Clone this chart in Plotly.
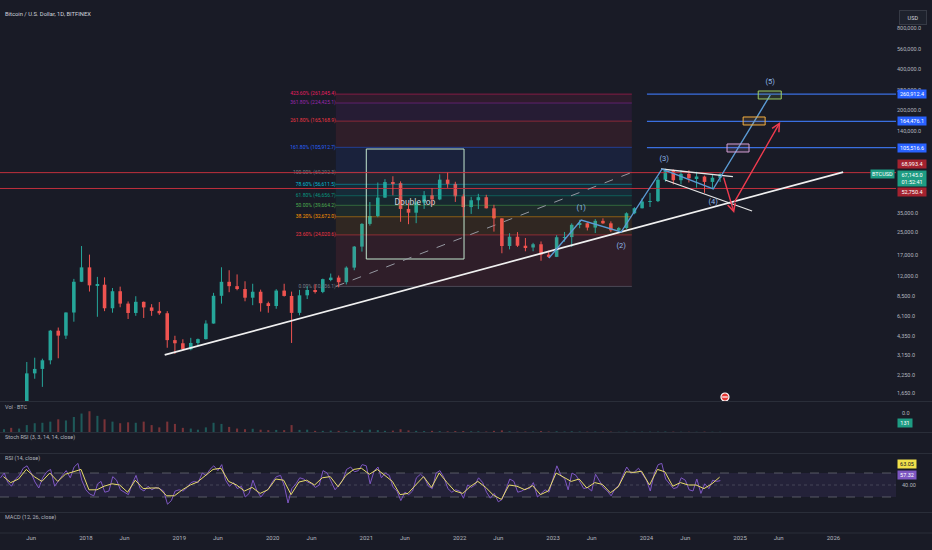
import math
import pandas as pd
import plotly.graph_objects as go

BG = '#191b26'
TXT = '#b2b5be'
GREEN = '#26a69a'
RED = '#ef5350'
LINE_RED = '#c0303d'
BLUE = '#2962ff'
FONT = 'Roboto'
PLOT_H = 533  # height of the plotting area in px (margin b below)

# ---------------- price data: monthly candles, Feb 2017 .. Oct 2024 ----------------
months = pd.date_range('2017-02-01', '2024-10-01', freq='MS')
candle_dates = months + pd.Timedelta(days=14)

opens = [965, 1190, 1080, 1350, 2300, 2480, 2870, 4740, 4360, 6450, 10860,
         13860, 10220, 10330, 6930, 9250, 7500, 6400, 7730, 7030, 6630, 6370, 4040,
         3830, 3460, 3850, 4110, 5350, 8560, 10850, 10080, 9600, 8290, 9170, 7550,
         7200, 9350, 8540, 6410, 8630, 9450, 9140, 11350, 11650, 10780, 13800, 19700,
         28950, 33100, 45200, 58800, 57700, 37300, 35000, 41500, 47100, 43800, 61300, 57000,
         46200, 38500, 43200, 45500, 37700, 31800, 19900, 23300, 20000, 19400, 20500, 17200,
         16550, 23100, 23150, 28500, 29250, 27200, 30480, 29230, 25950, 26970, 34650, 37720,
         42280, 42580, 61200, 71300, 60650, 67500, 62700, 64600, 58970, 63300]
highs = [1200, 1350, 1350, 2790, 3000, 2950, 4800, 5000, 6470, 11400, 19890,
         17200, 11800, 11700, 9770, 10000, 7780, 8500, 7770, 7430, 7700, 6600, 4350,
         4100, 4200, 4150, 5650, 9000, 13880, 13200, 12300, 10950, 10500, 9500, 7750,
         9580, 10500, 9190, 9470, 10080, 10400, 11450, 12480, 12070, 14100, 19900, 29300,
         41950, 58350, 61800, 64900, 59500, 41300, 42400, 50500, 52900, 67000, 69000, 59100,
         47900, 45800, 48200, 47400, 40000, 31900, 24700, 25200, 22800, 21000, 21500, 18400,
         23900, 25250, 29200, 31000, 29800, 31400, 31800, 30200, 27500, 35200, 38400, 44700,
         48950, 64000, 73800, 72800, 71950, 71950, 70000, 65600, 66500, 68400]
lows = [920, 890, 1060, 1340, 2100, 1830, 2680, 2970, 4120, 5520, 10800,
        9200, 6000, 6600, 6430, 7050, 5780, 6100, 5880, 6100, 6200, 3550, 3200,
        3400, 3400, 3700, 4080, 5340, 7500, 9100, 9400, 7800, 7300, 6550, 6430,
        6870, 8450, 3850, 6150, 8100, 8900, 8950, 10950, 9880, 10380, 13200, 18100,
        28130, 32400, 45000, 47000, 30000, 28800, 29300, 37300, 39600, 43300, 53300, 42000,
        32900, 34300, 37200, 37600, 25400, 17600, 18800, 19600, 18200, 18200, 15500, 16300,
        16500, 21400, 19600, 26900, 25900, 24800, 28900, 25200, 24950, 26600, 34100, 37600,
        38550, 41900, 59100, 56500, 56550, 58400, 53500, 49000, 52550, 58900]
closes = [1190, 1080, 1350, 2300, 2480, 2870, 4740, 4360, 6450, 10860, 13860,
          10220, 10330, 6930, 9250, 7500, 6400, 7730, 7030, 6630, 6370, 4040, 3830,
          3460, 3850, 4110, 5350, 8560, 10850, 10080, 9600, 8290, 9170, 7550, 7200,
          9350, 8540, 6410, 8630, 9450, 9140, 11350, 11650, 10780, 13800, 19700, 28950,
          33100, 45200, 58800, 57700, 37300, 35000, 41500, 47100, 43800, 61300, 57000, 46200,
          38500, 43200, 45500, 37700, 31800, 19900, 23300, 20000, 19400, 20500, 17200, 16550,
          23100, 23150, 28500, 29250, 27200, 30480, 29230, 25950, 26970, 34650, 37720, 42280,
          42580, 61200, 71300, 60650, 67500, 62700, 64600, 58970, 63300, 67145]
volume = [12, 18, 15, 30, 38, 40, 45, 55, 50, 65, 80,
          90, 70, 55, 45, 38, 42, 40, 45, 30, 20, 45, 35,
          18, 15, 10, 20, 40, 35, 22, 15, 12, 14, 10, 8,
          9, 8, 30, 9, 10, 5, 5, 6, 5, 4, 6, 7,
          10, 8, 5, 6, 12, 7, 5, 4, 5, 4, 3, 4,
          4, 3, 3, 2, 5, 7, 3, 2, 2, 2, 4, 2,
          3, 2, 3, 2, 1.5, 2, 1.5, 1.5, 1, 1.5, 1.5, 1.5,
          1.5, 1.5, 2, 1.5, 1, 1, 1, 1.5, 1, 1]

# RSI (14) twice a month, and its smoothed line once a month
rsi_dates = [d + pd.Timedelta(days=k) for d in months for k in (0, 15)]
rsi = [62, 70, 55, 48, 60, 66, 78, 82, 70, 55, 45, 62, 72, 76, 48, 58, 66, 74, 62, 80, 86, 58,
       42, 35, 32, 52, 56, 38, 40, 64, 58, 42, 38, 34, 52, 66, 44, 40, 48, 42, 46, 44, 40, 18, 24, 40,
       42, 40, 46, 54, 56, 54, 70, 66, 76, 82, 74, 84, 58, 48, 54, 44, 48, 30, 36, 58, 40, 30, 38, 44,
       56, 64, 66, 48, 20, 44, 52, 62, 60, 55, 52, 46, 50, 74, 70, 56, 42, 50, 58, 76, 80, 72, 74, 84,
       82, 52, 74, 80, 62, 70, 66, 46, 40, 24, 38, 34, 40, 62, 68, 62, 48, 44, 70, 74, 62, 44, 38, 42,
       40, 28, 50, 46, 50, 62, 54, 38, 28, 36, 22, 26, 42, 60, 56, 38, 40, 44, 44, 54, 30, 36, 42, 38,
       60, 82, 66, 60, 42, 70, 66, 54, 44, 46, 40, 68, 56, 46, 40, 32, 44, 50, 66, 80, 70, 72, 78, 68,
       58, 40, 70, 84, 86, 60, 52, 44, 46, 62, 58, 42, 40, 60, 36, 52, 44, 58, 56, 57.32]
rsi_ma_dates = months + pd.Timedelta(days=12)
rsi_ma = [64, 54, 60, 76, 64, 56, 70, 56, 68, 72, 76,
          42, 42, 48, 52, 50, 38, 58, 44, 45, 45, 32, 32,
          42, 50, 55, 66, 76, 78, 56, 50, 40, 46, 36, 42,
          60, 58, 34, 55, 58, 50, 62, 64, 47, 66, 76, 78,
          68, 76, 66, 56, 34, 36, 50, 64, 46, 70, 54, 40,
          36, 48, 56, 46, 33, 26, 50, 48, 42, 49, 34, 40,
          70, 63, 56, 60, 45, 54, 51, 37, 47, 72, 71, 73,
          50, 76, 72, 48, 54, 50, 50, 44, 52, 63.05]

# ---------------- drawings ----------------
x_range = ['2017-01-30 07:00', '2026-09-02 12:00']

trend_x = ['2018-11-05', '2026-02-08']
trend_y = [3140, 69730]

fib_x = ['2020-09-04', '2023-11-05']
fib_levels = [0, 23.6, 38.2, 50, 61.8, 78.6, 100, 161.8, 261.8, 361.8, 423.6]
fib_prices = [10036.1, 24020.6, 32672.0, 39664.2, 46656.7, 56611.5, 69292.3,
              105912.7, 165168.9, 224425.1, 261045.4]
fib_colors = ['#787b86', '#f23645', '#ff9800', '#4caf50', '#089981', '#00bcd4',
              '#787b86', '#2962ff', '#f23645', '#9c27b0', '#e91e63']

dbl_top_x = ['2021-01-01', '2022-01-18']
dbl_top_y = [15970, 102960]
dbl_top_label = ('2021-07-10', 41250, 'Double top')

wave_x = ['2022-12-16', '2023-04-21', '2023-09-24', '2024-03-02', '2024-09-18', '2025-04-29']
wave_y = [16240, 30930, 25230, 73380, 52290, 257100]
wave_label_x = ['2023-04-21', '2023-09-24', '2024-03-10', '2024-09-18', '2025-04-29']
wave_label_y = [37890, 19910, 86970, 41960, 320400]
wave_labels = ['(1)', '(2)', '(3)', '(4)', '(5)']

wedge_up_x = ['2024-02-27', '2024-12-04']
wedge_up_y = [73380, 64420]
wedge_lo_x = ['2024-03-14', '2025-02-17']
wedge_lo_y = [60900, 36010]

target_x0 = ['2024-11-11', '2025-01-13', '2025-03-13']
target_x1 = ['2025-02-05', '2025-04-09', '2025-06-11']
target_lo = [97880, 154700, 240300]
target_hi = [112100, 177100, 275100]
target_colors = ['#d7a0d6', '#f5b041', '#9ccc65']

target_start = '2024-01-03'
target_levels = [105516.6, 164476.1, 260912.4]
red_levels = [68993.4, 52750.4]

arrow_tail_x = ['2024-10-27', '2024-12-07']
arrow_tail_y = [65160, 41030]
arrow_head_x = ['2024-12-09', '2025-06-07']
arrow_head_y = [34800, 162700]

icon_x, icon_y = '2024-11-03', 1541

price_ticks = [800000, 560000, 400000, 280000, 200000, 140000, 35000, 25000,
               17000, 12000, 8500, 6100, 4350, 3150, 2250, 1650]
x_ticks = ['2017-06-01', '2018-01-01', '2018-06-01', '2019-01-01', '2019-06-01',
           '2020-01-01', '2020-06-01', '2021-01-01', '2021-06-01', '2022-01-01',
           '2022-06-01', '2023-01-01', '2023-06-01', '2024-01-01', '2024-06-01',
           '2025-01-01', '2025-06-01', '2026-01-01']
x_tick_text = ['Jun', '2018', 'Jun', '2019', 'Jun', '2020', 'Jun', '2021', 'Jun',
               '2022', 'Jun', '2023', 'Jun', '2024', 'Jun', '2025', 'Jun', '2026']


def rgba(hex_color, a):
    h = hex_color.lstrip('#')
    return 'rgba({},{},{},{})'.format(int(h[0:2], 16), int(h[2:4], 16), int(h[4:6], 16), a)


def py(px):
    # pixel row inside the plotting area -> paper fraction
    return 1 - px / PLOT_H


def line(x, y, color, width=1, dash=None, yaxis='y'):
    return go.Scatter(x=x, y=y, mode='lines', yaxis=yaxis, hoverinfo='skip',
                      line=dict(color=color, width=width, dash=dash))


fig = go.Figure()

# fib zones, lines and labels
for i in range(1, len(fib_levels)):
    lo, hi = fib_prices[i - 1], fib_prices[i]
    fig.add_trace(go.Scatter(x=[fib_x[0], fib_x[1], fib_x[1], fib_x[0], fib_x[0]],
                             y=[lo, lo, hi, hi, lo], mode='lines', fill='toself',
                             fillcolor=rgba(fib_colors[i], 0.1), line=dict(width=0),
                             hoverinfo='skip'))
for p, c in zip(fib_prices, fib_colors):
    fig.add_trace(line(fib_x, [p, p], rgba(c, 0.6), 0.8))
fig.add_trace(go.Scatter(x=[fib_x[0]] * len(fib_prices), y=fib_prices, mode='text',
                         text=['{:.2f}% ({:,.1f})'.format(l, p) for l, p in zip(fib_levels, fib_prices)],
                         textposition='middle left',
                         textfont=dict(size=5, color=fib_colors, family=FONT)))

# double top box
fig.add_trace(line([dbl_top_x[0], dbl_top_x[1], dbl_top_x[1], dbl_top_x[0], dbl_top_x[0]],
                   [dbl_top_y[0], dbl_top_y[0], dbl_top_y[1], dbl_top_y[1], dbl_top_y[0]],
                   '#c3e6cf', 1))
fig.add_trace(go.Scatter(x=[dbl_top_label[0]], y=[dbl_top_label[1]], mode='text',
                         text=[dbl_top_label[2]], textfont=dict(size=8.5, color='#d1d4dc', family=FONT)))

# horizontal levels
for p in red_levels:
    fig.add_trace(line(x_range, [p, p], LINE_RED, 1))
for p in target_levels:
    fig.add_trace(line([target_start, x_range[1]], [p, p], '#3a6fe0', 1.2))

# dashed fib trend
fig.add_trace(line(fib_x, [fib_prices[0], fib_prices[6]], '#9598a1', 1, 'dash'))

# candles: thin wicks + narrow bodies
DAY = 86400000
for up, col in ((True, GREEN), (False, RED)):
    idx = [i for i in range(len(opens)) if (closes[i] >= opens[i]) == up]
    wx, wy = [], []
    for i in idx:
        wx += [candle_dates[i], candle_dates[i], None]
        wy += [lows[i], highs[i], None]
    fig.add_trace(go.Scatter(x=wx, y=wy, mode='lines', line=dict(color=col, width=1), hoverinfo='skip'))
    fig.add_trace(go.Bar(x=[candle_dates[i] for i in idx],
                         base=[min(opens[i], closes[i]) for i in idx],
                         y=[abs(closes[i] - opens[i]) for i in idx],
                         width=14 * DAY, marker=dict(color=col, line=dict(width=0)), hoverinfo='skip'))

# long support trend line and wedge
fig.add_trace(line(trend_x, trend_y, '#f0f0f0', 1.8))
fig.add_trace(line(wedge_up_x, wedge_up_y, '#e6e6e6', 1.3))
fig.add_trace(line(wedge_lo_x, wedge_lo_y, '#e6e6e6', 1.3))

# elliott wave path
fig.add_trace(line(wave_x, wave_y, '#5b9bd5', 1.4))
fig.add_trace(go.Scatter(x=wave_label_x, y=wave_label_y, mode='text', text=wave_labels,
                         textfont=dict(size=7.5, color='#8fb8e8', family=FONT)))

# target boxes
for x0, x1, lo, hi, c in zip(target_x0, target_x1, target_lo, target_hi, target_colors):
    fig.add_trace(go.Scatter(x=[x0, x1, x1, x0, x0], y=[lo, lo, hi, hi, lo], mode='lines',
                             fill='toself', fillcolor=rgba(c, 0.12), line=dict(color=c, width=1),
                             hoverinfo='skip'))

# event icon
fig.add_trace(go.Scatter(x=[icon_x], y=[icon_y], mode='markers',
                         marker=dict(size=8, color='#e53935', line=dict(color='white', width=1.2))))
fig.add_trace(go.Scatter(x=[icon_x], y=[icon_y], mode='markers',
                         marker=dict(size=4, symbol='line-ew', line=dict(color='white', width=1.2))))

# volume pane
vol_colors = [rgba(GREEN, 0.45) if c >= o else rgba(RED, 0.45) for o, c in zip(opens, closes)]
fig.add_trace(go.Bar(x=candle_dates, y=volume, yaxis='y2', marker=dict(color=vol_colors, line=dict(width=0)),
                     width=8 * DAY, hoverinfo='skip'))

# RSI pane
fig.add_trace(go.Scatter(x=[x_range[0], x_range[1], x_range[1], x_range[0], x_range[0]],
                         y=[30, 30, 70, 70, 30], yaxis='y3', mode='lines', fill='toself',
                         fillcolor='rgba(126,87,194,0.12)', line=dict(width=0), hoverinfo='skip'))
for lvl, d, op in ((70, 'dash', 0.8), (50, 'dot', 0.5), (30, 'dash', 0.8)):
    fig.add_trace(line(x_range, [lvl, lvl], rgba('#787b86', op), 0.8, d, 'y3'))
fig.add_trace(line(rsi_dates, rsi, '#7e57c2', 1, None, 'y3'))
fig.add_trace(line(rsi_ma_dates, rsi_ma, '#e8dc6a', 1, None, 'y3'))

# ---------------- annotations ----------------
def scale_box(text, y, color, yref='y', shift=0, fg='white', width=26):
    return dict(text=text, x=1, xref='paper', xanchor='left', xshift=1, y=y, yref=yref,
                yshift=shift, showarrow=False, bgcolor=color, borderpad=1, width=width,
                font=dict(size=5.5, color=fg, family=FONT))


ann = [
    dict(text='Bitcoin / U.S. Dollar, 1D, BITFINEX', x=0, xref='paper', xanchor='left', xshift=3,
         y=py(9), yref='paper', showarrow=False, font=dict(size=5.8, color='#d1d4dc', family=FONT)),
    dict(text='USD', x=1, xref='paper', xanchor='left', xshift=3, y=py(10), yref='paper',
         showarrow=False, bgcolor='#1e222d', bordercolor='#363a45', borderwidth=1, width=24,
         height=11, font=dict(size=5.5, color='#d1d4dc', family=FONT)),
]
for text, px in (('Vol · BTC', 412), ('Stoch RSI (3, 3, 14, 14, close)', 443),
                 ('RSI (14, close)', 464), ('MACD (12, 26, close)', 523)):
    ann.append(dict(text=text, x=0, xref='paper', xanchor='left', xshift=3, y=py(px), yref='paper',
                    showarrow=False, font=dict(size=5.5, color=TXT, family=FONT)))

for v in target_levels:
    ann.append(scale_box('{:,.1f}'.format(v), math.log10(v), BLUE))
ann.append(scale_box('{:,.1f}'.format(red_levels[0]), math.log10(red_levels[0]), '#a3222f', shift=9))
ann.append(scale_box('{:,.1f}'.format(red_levels[1]), math.log10(red_levels[1]), '#a3222f', shift=-4))
ann.append(dict(scale_box('{:,.1f}<br>01:52:41'.format(closes[-1]), math.log10(closes[-1]), '#1e9c83',
                          shift=4), yanchor='top'))
ann.append(dict(text='BTCUSD', x=1, xref='paper', xanchor='right', xshift=-1, y=math.log10(closes[-1]),
                yref='y', showarrow=False, bgcolor='#1e9c83', borderpad=1,
                font=dict(size=5.5, color='white', family=FONT)))

ann.append(dict(text='0.0', x=1, xref='paper', xanchor='left', xshift=4, y=py(418), yref='paper',
                showarrow=False, font=dict(size=5.5, color=TXT, family=FONT)))
ann.append(scale_box('131', py(428), '#1e9c83', yref='paper', width=12))
ann.append(scale_box('{:.2f}'.format(rsi_ma[-1]), py(469), '#f0e04a', yref='paper', fg='#131722', width=16))
ann.append(scale_box('{:.2f}'.format(rsi[-1]), py(480), '#7e57c2', yref='paper', width=16))
ann.append(dict(text='40.00', x=1, xref='paper', xanchor='left', xshift=4, y=py(490), yref='paper',
                showarrow=False, font=dict(size=5.5, color=TXT, family=FONT)))

for tx, ty, hx, hy in zip(arrow_tail_x, arrow_tail_y, arrow_head_x, arrow_head_y):
    ann.append(dict(x=hx, y=math.log10(hy), ax=tx, ay=math.log10(ty), xref='x', yref='y',
                    axref='x', ayref='y', text='', showarrow=True, arrowhead=5, arrowsize=1.1,
                    arrowwidth=1.4, arrowcolor='#ef3b4f'))

# pane separators
shapes = [dict(type='line', xref='paper', yref='paper', x0=0, x1=1.05, y0=py(px), y1=py(px),
               line=dict(color='#2a2e39', width=1)) for px in (401.5, 432.5, 453.5, 512.5, 533)]

fig.update_layout(
    width=932, height=550,
    margin=dict(l=0, r=36, t=0, b=17),
    paper_bgcolor=BG, plot_bgcolor=BG,
    showlegend=False, barmode='overlay',
    font=dict(family=FONT, color=TXT),
    annotations=ann, shapes=shapes,
    xaxis=dict(type='date', range=x_range, rangeslider=dict(visible=False), anchor='free', position=0,
               showgrid=False, zeroline=False, showline=False, tickvals=x_ticks, ticktext=x_tick_text,
               tickfont=dict(size=6, color=TXT, family=FONT), ticks=''),
    yaxis=dict(type='log', domain=[py(401), 1], range=[3.1584, 6.1091], side='right', anchor='x',
               showgrid=False, zeroline=False, showline=False, ticks='',
               tickvals=price_ticks, ticktext=['{:,.1f}'.format(v) for v in price_ticks],
               tickfont=dict(size=5.5, color=TXT, family=FONT)),
    yaxis2=dict(domain=[py(432), py(402)], range=[0, 130], anchor='x', showgrid=False,
                zeroline=False, showticklabels=False),
    yaxis3=dict(domain=[py(512), py(454)], range=[5, 101.7], anchor='x', showgrid=False,
                zeroline=False, showticklabels=False),
)

fig.write_html('out.html', config={'displayModeBar': False},
               post_script="document.body.style.margin='0';document.body.style.background='" + BG + "';")
